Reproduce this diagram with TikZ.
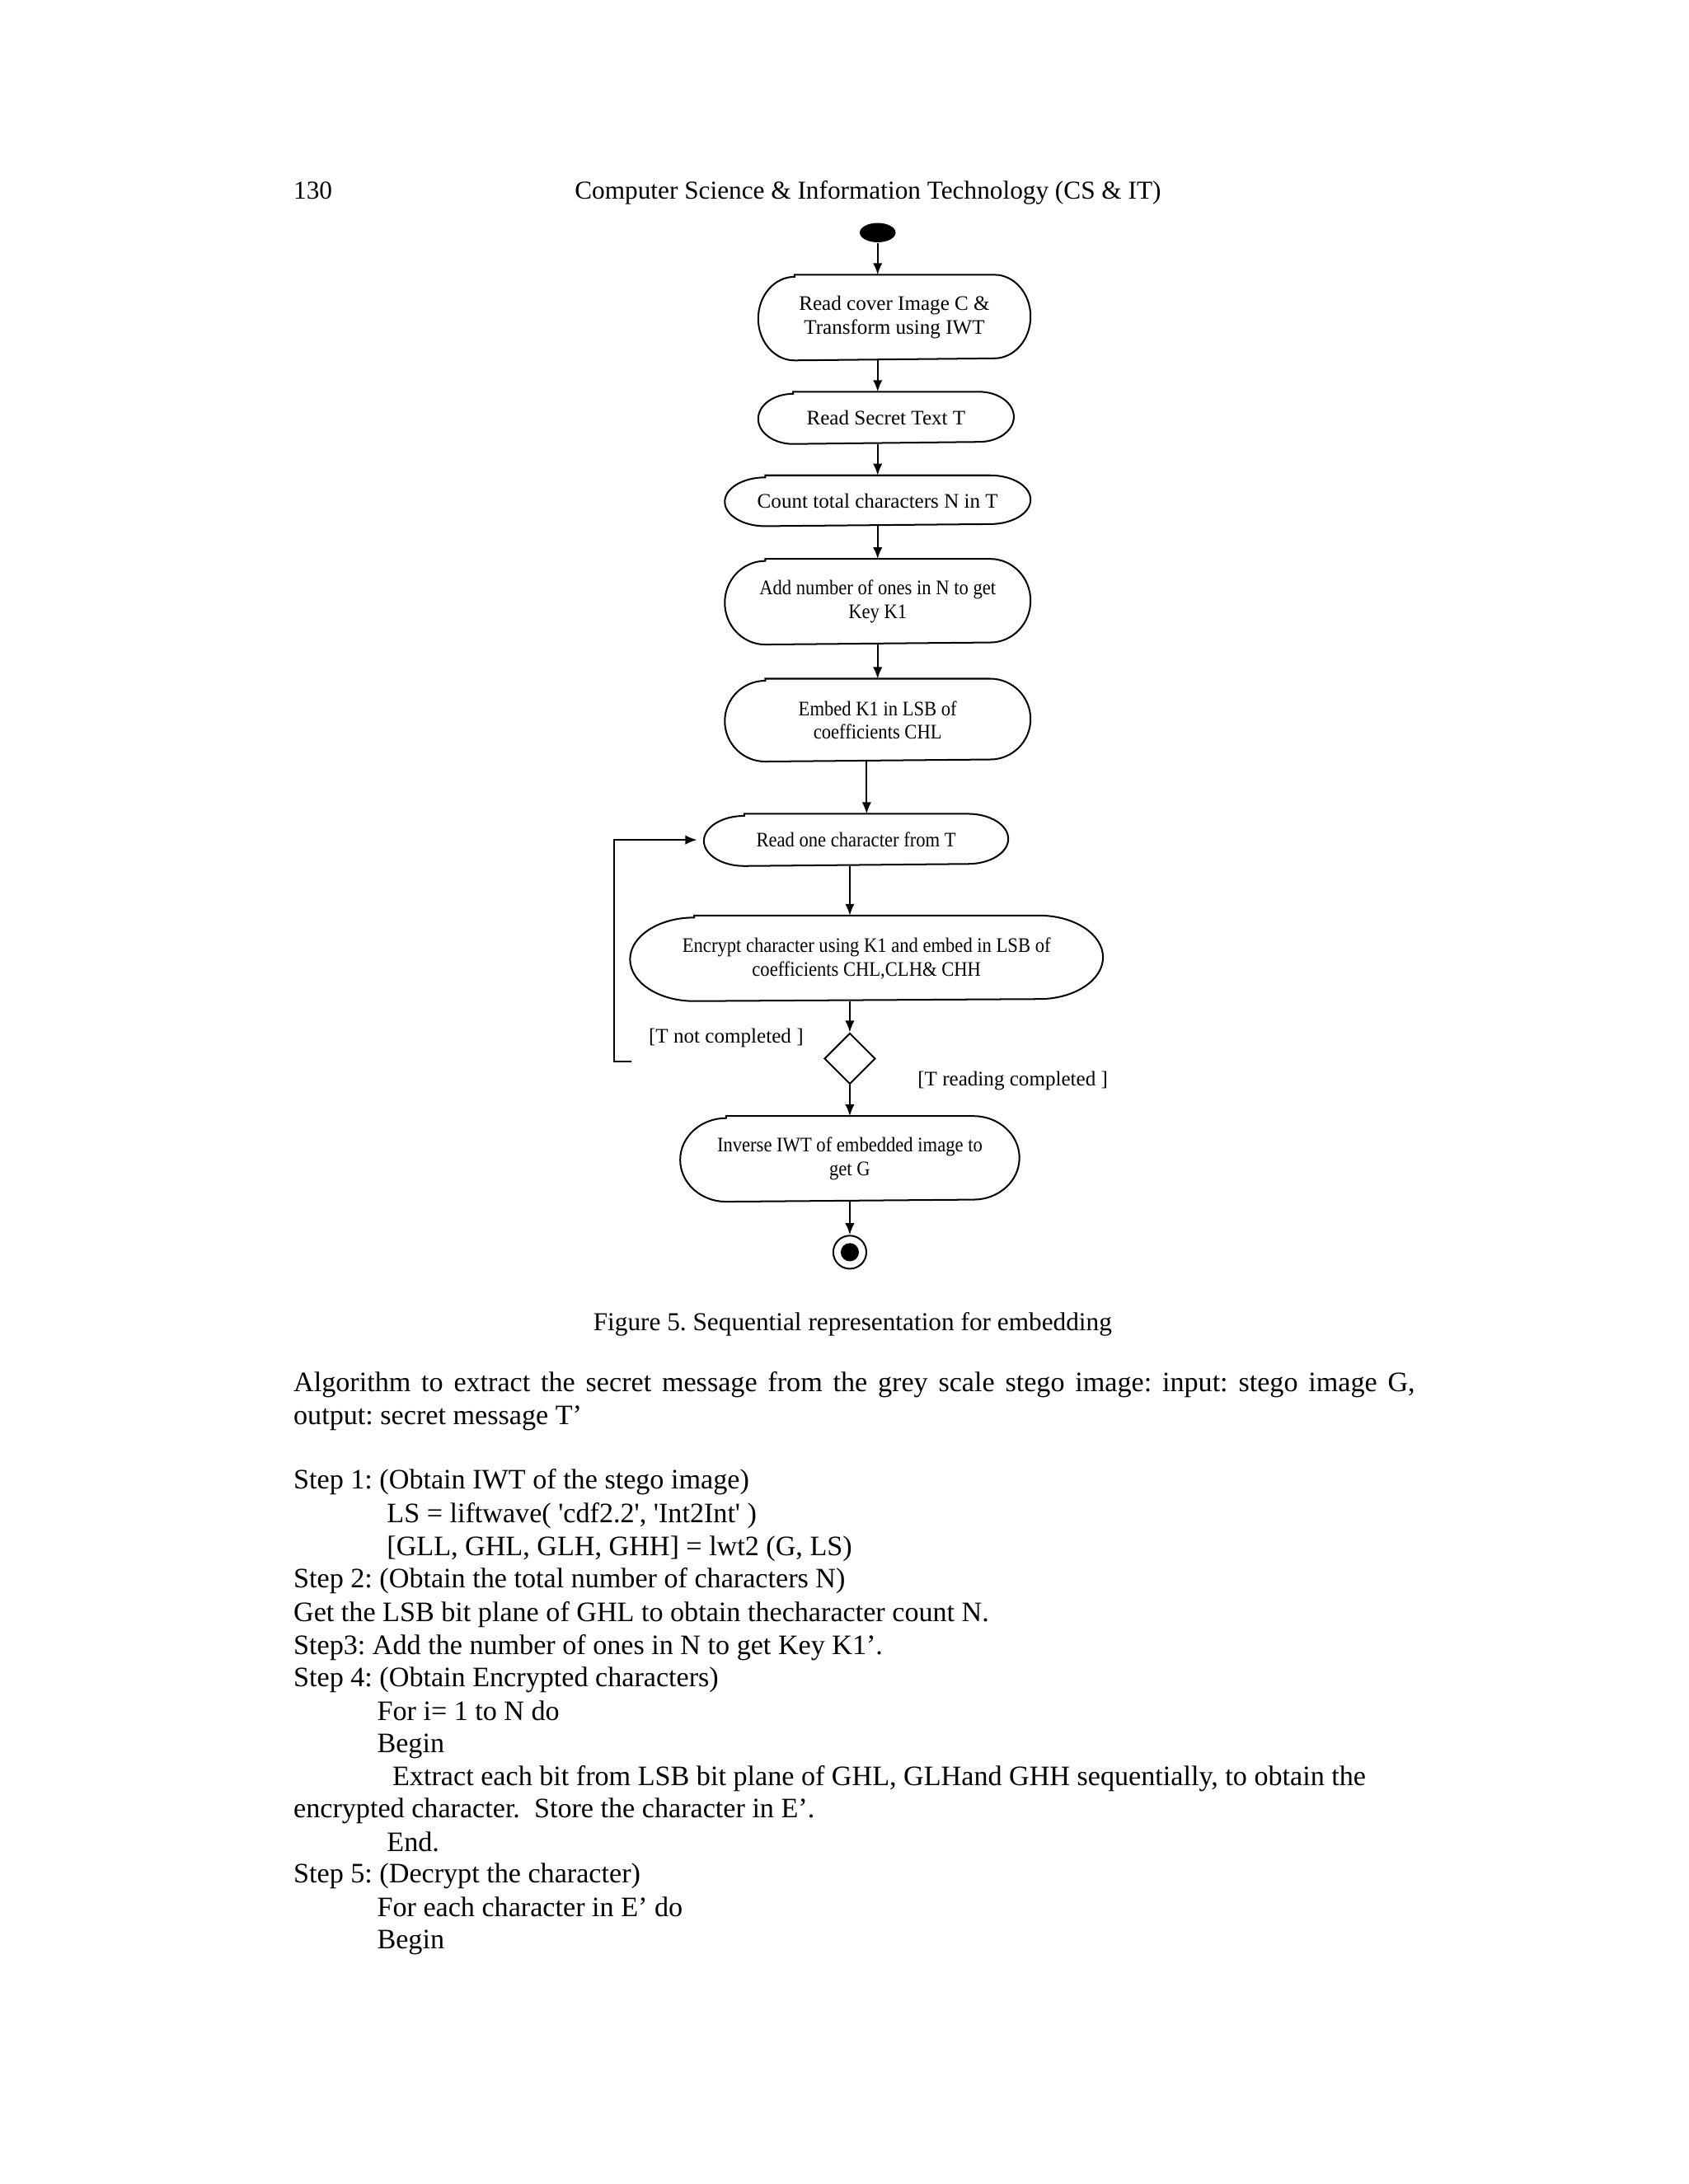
\documentclass[tikz,border=0pt]{standalone}
\usepackage{fontspec}
\setmainfont{Liberation Serif}
\newfontfamily\plainquotes{Liberation Serif}[Ligatures=TeXOff]
\newfontfamily\narrowserif{Liberation Serif}[FakeStretch=0.9]
\usetikzlibrary{arrows.meta,shapes.geometric}
\frenchspacing
\newcommand{\boxfont}{\fontsize{7.5}{8.6}\selectfont}
\newcommand{\bodyfont}{\fontsize{10.2}{11.9}\selectfont}
\newcommand{\headfont}{\fontsize{9.35}{11}\selectfont}
\tikzset{every picture/.style={line width=0.75pt}}
\tikzset{
  actnode/.style 2 args={minimum width=#1*0.505pt, minimum height=#2*0.505pt, inner sep=0pt, align=center, font=\boxfont},
  narrowtext/.style={font=\boxfont\narrowserif},
  flow/.style={-{Latex[length=4.2pt,width=3.4pt]}, line width=0.6pt},
  guard/.style={anchor=west, inner sep=0pt, font=\boxfont},
  bodyline/.style={anchor=base west, inner sep=0pt, font=\bodyfont},
}

\begin{document}
\begin{tikzpicture}[x=0.505pt,y=0.505pt,yscale=-1,xscale=1]
%uncomment if require: \path (0,1568); %page of 1212 by 1568
\fill [white] (0,0) rectangle (1212,1568);
\useasboundingbox (0,0) rectangle (1212,1568);
% Text Node
\draw (210,143) node (pageno) [anchor=base west, inner sep=0pt, font=\headfont] {130};
% Text Node
\draw (623,143) node (runhead) [anchor=base, inner sep=0pt, font=\headfont] {Computer Science \& Information Technology (CS \& IT)};
%Shape: Ellipse
\draw (630,167) node (start) [ellipse, fill=black, minimum width=13pt, minimum height=7pt, inner sep=0pt] {};
%Rounded Rect
\draw (642,228) node (cover) [actnode={194}{60}] {Read cover Image C \&\\Transform using IWT};
\draw (636,300) node (secret) [actnode={182}{36}] {Read Secret Text T};
\draw (630,359.5) node (count) [actnode={218}{35}] {Count total characters N in T};
\draw (630,432) node (ones) [actnode={218}{60}, narrowtext] {Add number of ones in N to get\\Key K1};
\draw (630,517) node (embed) [actnode={218}{58}, narrowtext] {Embed K1 in LSB of\\coefficients CHL};
\draw (614.5,603) node (readch) [actnode={217}{36}, narrowtext] {Read one character from T};
\draw (622,688) node (encrypt) [actnode={338}{60}, narrowtext] {Encrypt character using K1 and embed in LSB of\\coefficients CHL,CLH\& CHH};
\draw (610,832) node (inverse) [actnode={242}{60}, narrowtext] {Inverse IWT of embedded image to\\get G};
\foreach \b/\rx/\ry in {cover/26/30, secret/25/18, count/29/17.5, ones/29/30, embed/29/29, readch/29/18, encrypt/46/30, inverse/33/30}
  \draw [line width=0.6pt] ([xshift=\rx*0.505pt]\b.north west) -- ([xshift=-\rx*0.505pt]\b.north east) arc [start angle=-90, end angle=90, x radius=\rx, y radius=\ry] -- ([xshift=\rx*0.505pt]\b.south west) arc [start angle=90, end angle=270, x radius=\rx, y radius=\ry] -- cycle;
%Shape: Diamond
\draw (610,760) node (dec) [diamond, draw, line width=0.6pt, minimum width=18.5pt, minimum height=18.5pt, inner sep=0pt] {};
%Shape: Circle
\draw (610,899) node (stop) [circle, draw, line width=0.6pt, minimum size=12pt, inner sep=0pt, path picture={\fill (path picture bounding box.center) circle (3.3pt);}] {};
%Straight Lines
\draw [flow] (start.south) -- (start |- cover.north);
\draw [flow] (cover.south -| start) -- (secret.north -| start);
\draw [flow] (secret.south -| start) -- (count.north -| start);
\draw [flow] (count.south -| start) -- (ones.north -| start);
\draw [flow] (ones.south -| start) -- (embed.north -| start);
\draw [flow] ([xshift=-4pt]embed.south) -- ([xshift=-4pt]embed.south |- readch.north);
\draw [flow] (readch.south -| dec) -- (encrypt.north -| dec);
\draw [flow] (encrypt.south -| dec) -- (dec.north);
\draw [flow] (dec.south) -- (inverse.north);
\draw [flow] (inverse.south) -- (stop.north);
%Straight Lines (loop back)
\coordinate (loopend) at (453,762);
\draw [flow] (loopend) -- ++(-12,0) |- ([xshift=-2.5pt]readch.west);
% Text Node
\draw (465,745) node (notdone) [guard] {[T not completed ]};
% Text Node
\draw (658,776) node (done) [guard] {[T reading completed ]};
% Text Node
\draw (612,955) node (caption) [anchor=base, inner sep=0pt, font=\headfont] {Figure 5. Sequential representation for embedding};
% Text Node
\draw (210,999) node (para1) [bodyline] {\makebox[406.5pt][s]{Algorithm to extract the secret message from the grey scale stego image: input: stego image G,}};
\draw (210,1023) node (para2) [bodyline] {output: secret message T’};
% Text Node
\draw (210,1069) node (s1) [bodyline] {Step 1: (Obtain IWT of the stego image)};
\draw (277,1093) node (s1a) [bodyline] {\plainquotes LS = liftwave( 'cdf2.2', 'Int2Int' )};
\draw (277,1117) node (s1b) [bodyline] {[GLL, GHL, GLH, GHH] = lwt2 (G, LS)};
\draw (210,1140) node (s2) [bodyline] {Step 2: (Obtain the total number of characters N)};
\draw (210,1164) node (s2a) [bodyline] {Get the LSB bit plane of GHL to obtain thecharacter count N.};
\draw (210,1188) node (s3) [bodyline] {Step3: Add the number of ones in N to get Key K1’.};
\draw (210,1211) node (s4) [bodyline] {Step 4: (Obtain Encrypted characters)};
\draw (270,1235) node (s4a) [bodyline] {For i= 1 to N do};
\draw (270,1258) node (s4b) [bodyline] {Begin};
\draw (281,1282) node (s4c) [bodyline] {Extract each bit from LSB bit plane of GHL, GLHand GHH sequentially, to obtain the};
\draw (210,1305) node (s4d) [bodyline] {encrypted character.\ \ Store the character in E’.};
\draw (277,1329) node (s4e) [bodyline] {End.};
\draw (210,1352) node (s5) [bodyline] {Step 5: (Decrypt the character)};
\draw (270,1376) node (s5a) [bodyline] {For each character in E’ do};
\draw (270,1399) node (s5b) [bodyline] {Begin};
\end{tikzpicture}
\end{document}
